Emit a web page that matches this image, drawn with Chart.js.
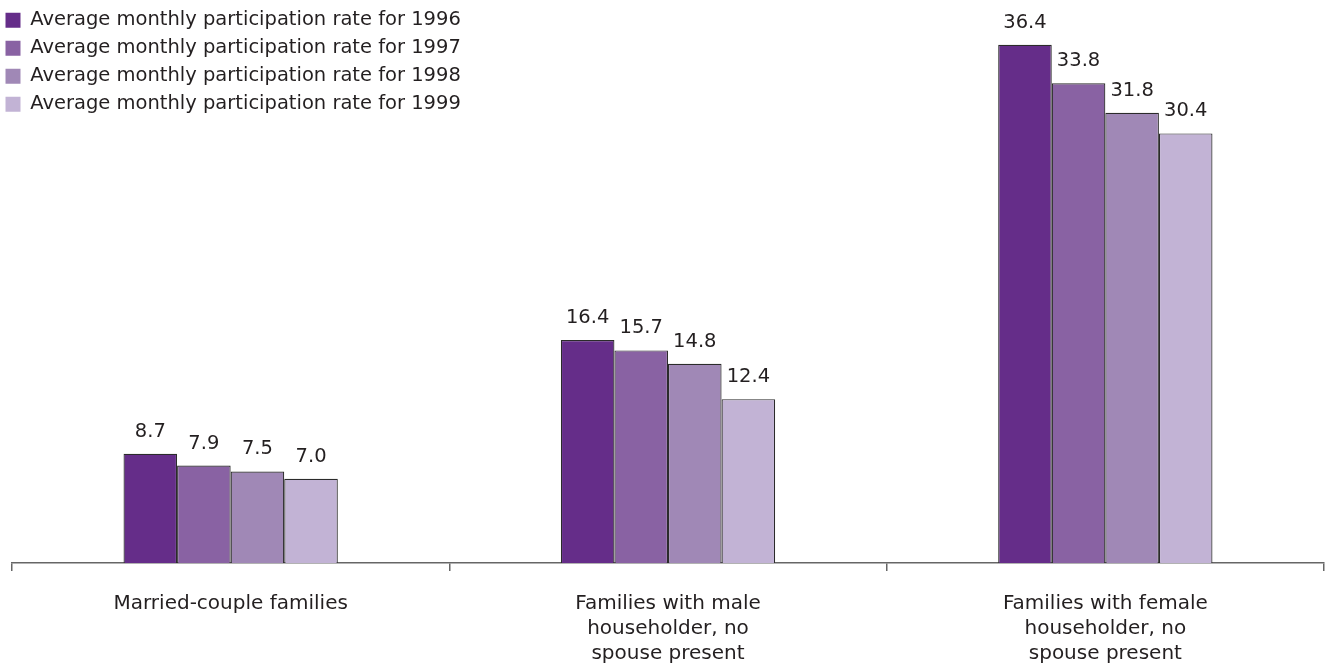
<!DOCTYPE html>
<html>
<head>
<meta charset="utf-8">
<style>
  html, body { margin: 0; padding: 0; background: #fff; }
  #wrap { width: 1325px; height: 664px; position: relative; }
</style>
<script src="https://cdn.jsdelivr.net/npm/chart.js@4/dist/chart.umd.min.js"></script>
</head>
<body>
<div id="wrap"><canvas id="chart"></canvas></div>
<script>
// Family types on the category axis (multi-line labels)
const categories = [
  'Married-couple families',
  ['Families with male', 'householder, no', 'spouse present'],
  ['Families with female', 'householder, no', 'spouse present']
];

// Average monthly participation rate (%) by year
const rate1996 = [8.7, 16.4, 36.4];
const rate1997 = [7.9, 15.7, 33.8];
const rate1998 = [7.5, 14.8, 31.8];
const rate1999 = [7.0, 12.4, 30.4];

const seriesNames = [
  'Average monthly participation rate for 1996',
  'Average monthly participation rate for 1997',
  'Average monthly participation rate for 1998',
  'Average monthly participation rate for 1999'
];

// Value range of the (hidden) vertical axis
const yMin = 1.3;
const yMax = 39.3;

const colors = ['#652d89', '#8962a3', '#a088b6', '#c2b3d5'];
const textColor = '#231f20';
const fontFamily = "'DejaVu Sans', sans-serif";

Chart.defaults.font.family = fontFamily;
Chart.defaults.color = textColor;

// Writes each bar's value above it
const valueLabels = {
  id: 'valueLabels',
  afterDatasetsDraw(chart) {
    const ctx = chart.ctx;
    ctx.save();
    ctx.font = '19.5px ' + fontFamily;
    ctx.fillStyle = textColor;
    ctx.textAlign = 'center';
    ctx.textBaseline = 'alphabetic';
    chart.data.datasets.forEach((ds, di) => {
      const meta = chart.getDatasetMeta(di);
      meta.data.forEach((bar, i) => {
        ctx.fillText(ds.data[i].toFixed(1), bar.x, bar.y - 17);
      });
    });
    ctx.restore();
  }
};

// Pulls the in-plot legend toward the top-left canvas corner
const legendInset = {
  id: 'legendInset',
  afterLayout(chart) {
    const lg = chart.legend;
    if (lg) {
      const w = lg.right - lg.left;
      const h = lg.bottom - lg.top;
      lg.left = -3;
      lg.right = lg.left + w;
      lg.top = chart.chartArea.top;
      lg.bottom = lg.top + h;
    }
  }
};

const makeSet = (label, data, color) => ({
  label, data,
  backgroundColor: color,
  borderColor: '#2b2b2b',
  borderWidth: 1.2,
  borderSkipped: false,
  categoryPercentage: 0.49,
  barPercentage: 1.0
});

new Chart(document.getElementById('chart'), {
  type: 'bar',
  data: {
    labels: categories,
    datasets: [
      makeSet(seriesNames[0], rate1996, colors[0]),
      makeSet(seriesNames[1], rate1997, colors[1]),
      makeSet(seriesNames[2], rate1998, colors[2]),
      makeSet(seriesNames[3], rate1999, colors[3])
    ]
  },
  options: {
    responsive: true,
    maintainAspectRatio: false,
    animation: false,
    layout: { padding: { left: 12, right: 1, top: 2, bottom: -22 } },
    plugins: {
      legend: {
        position: 'chartArea',
        align: 'start',
        labels: {
          boxWidth: 15,
          boxHeight: 15,
          padding: 8.5,
          color: textColor,
          font: { size: 19.5 },
          generateLabels(chart) {
            const items = Chart.defaults.plugins.legend.labels.generateLabels(chart);
            items.forEach(it => { it.lineWidth = 0; it.strokeStyle = 'rgba(0,0,0,0)'; });
            return items;
          }
        }
      },
      tooltip: { enabled: false }
    },
    scales: {
      x: {
        offset: true,
        grid: {
          display: true,
          offset: true,
          drawOnChartArea: false,
          drawTicks: true,
          tickLength: 8,
          color: '#666',
          lineWidth: 1.5
        },
        border: { display: true, color: '#666', width: 1.5 },
        ticks: {
          color: textColor,
          padding: 20,
          maxRotation: 0,
          autoSkip: false,
          font: { size: 20, lineHeight: 1.25 }
        }
      },
      y: {
        display: false,
        min: yMin,
        max: yMax
      }
    }
  },
  plugins: [valueLabels, legendInset]
});
</script>
</body>
</html>
